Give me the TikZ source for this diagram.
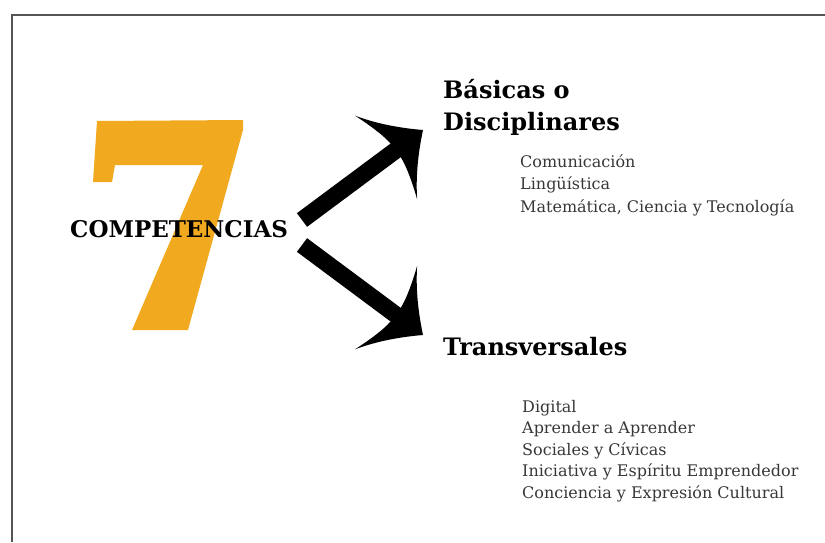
\documentclass[tikz,border=0pt]{standalone}
\usepackage{fontspec}
\setmainfont{DejaVu Serif}
\usepackage{xcolor}
\usetikzlibrary{positioning,arrows.meta}

\definecolor{sevenorange}{RGB}{241,170,32}
\definecolor{itemgray}{RGB}{55,55,55}
\definecolor{framegray}{RGB}{85,85,85}

% broad barbed arrow head
\pgfdeclarearrow{
  name = Barb,
  setup code = {
    \pgfarrowssettipend{0pt}
    \pgfarrowssetbackend{-46pt}
    \pgfarrowssetlineend{-30pt}
    \pgfarrowssetvisualbackend{-30pt}
  },
  drawing code = {
    \pgfpathmoveto{\pgfqpoint{0pt}{0pt}}
    \pgfpathcurveto{\pgfqpoint{-17pt}{15pt}}{\pgfqpoint{-33pt}{32pt}}{\pgfqpoint{-46pt}{52pt}}
    \pgfpathcurveto{\pgfqpoint{-40pt}{36pt}}{\pgfqpoint{-35pt}{20pt}}{\pgfqpoint{-34pt}{8pt}}
    \pgfpathlineto{\pgfqpoint{-34pt}{-8pt}}
    \pgfpathcurveto{\pgfqpoint{-35pt}{-20pt}}{\pgfqpoint{-40pt}{-36pt}}{\pgfqpoint{-46pt}{-52pt}}
    \pgfpathcurveto{\pgfqpoint{-33pt}{-32pt}}{\pgfqpoint{-17pt}{-15pt}}{\pgfqpoint{0pt}{0pt}}
    \pgfpathclose
    \pgfusepathqfill
  }
}

\tikzset{
  heading/.style={inner sep=0pt, align=left, font=\bfseries\fontsize{24}{32}\selectfont},
  items/.style={inner sep=0pt, align=left, text=itemgray, font=\fontsize{16}{22.5}\selectfont},
  shaft/.style={line width=17pt, -{Barb}},
}

\begin{document}
\begin{tikzpicture}[x=1pt,y=-1pt]
  \useasboundingbox (0,0) rectangle (825,542);
  \draw[framegray, line width=2pt] (12,542) -- (12,15) -- (825,15);
  % the big 7
  \fill[sevenorange] (97,121) -- (243,120) -- (243,130) -- (188,330) -- (132,330)
    -- (203,165) -- (115,165) -- (112,182) -- (93,182) -- cycle;
  \node[inner sep=0pt, anchor=base west, font=\bfseries\fontsize{23}{28}\selectfont] (comp) at (70,237) {COMPETENCIAS};

  \node[heading, anchor=base west] (basicas) at (443,130) {Básicas o\\Disciplinares};
  \node[heading, anchor=base west] (trans) at (443,355) {Transversales};
  \node[items, anchor=base west] (blist) at (520,212)
    {Comunicación\\Lingüística\\Matemática, Ciencia y Tecnología};
  \node[items, anchor=base west, font=\fontsize{16}{21.5}\selectfont] (tlist) at (522,498)
    {Digital\\Aprender a Aprender\\Sociales y Cívicas\\Iniciativa y Espíritu Emprendedor\\Conciencia y Expresión Cultural};

  \coordinate (upstart) at (302,220);
  \coordinate (uptip) at (423,130);
  \coordinate (downstart) at (302,245);
  \coordinate (downtip) at (423,335);
  \draw[shaft] (upstart) -- (uptip);
  \draw[shaft] (downstart) -- (downtip);
\end{tikzpicture}
\end{document}
